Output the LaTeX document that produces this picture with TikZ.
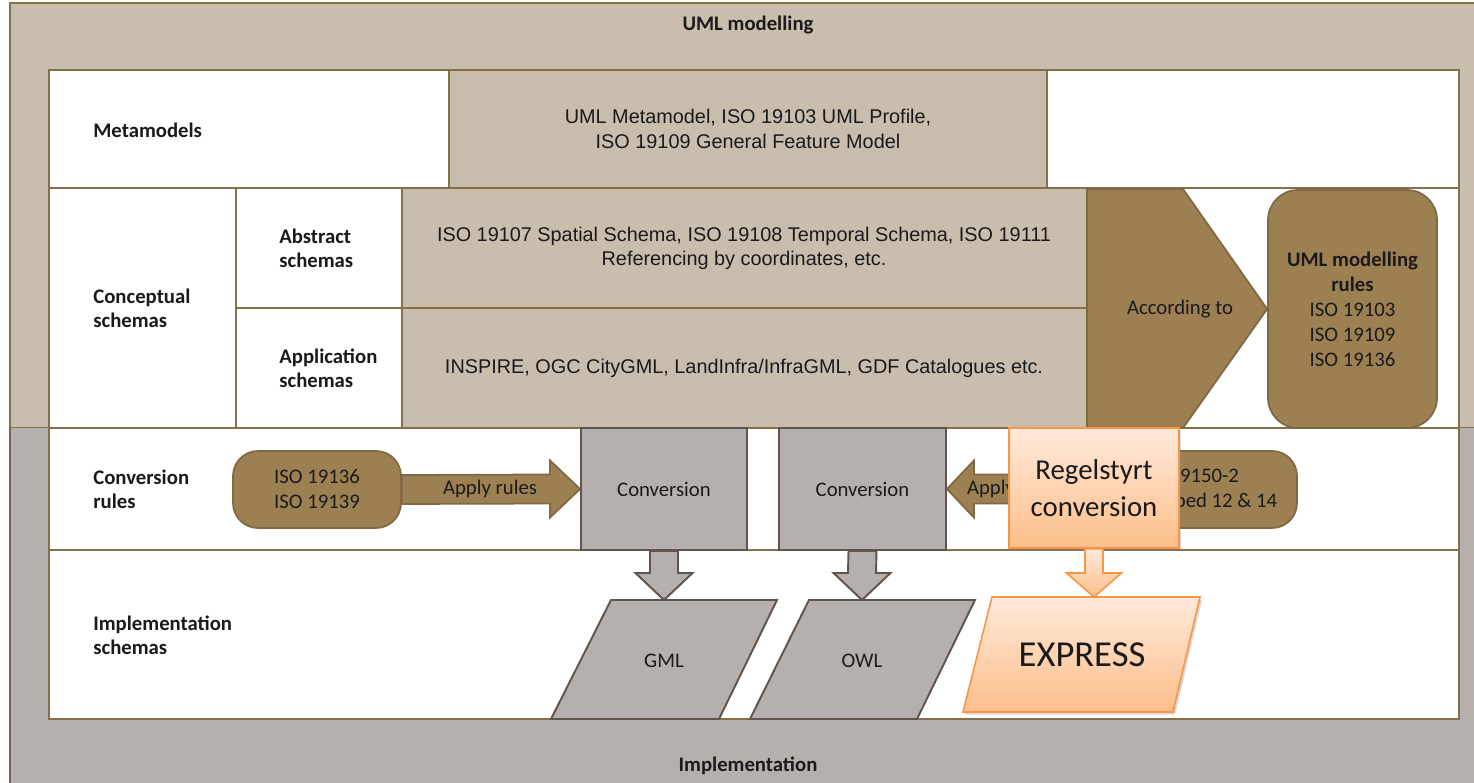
\documentclass[tikz,border=0pt]{standalone}
\usepackage{fontspec}
\setmainfont{Carlito}
\newfontfamily\contentfont{Liberation Sans}
\usetikzlibrary{calc,shadows}
\definecolor{beige}{HTML}{C9BDAD}
\definecolor{brline}{HTML}{85704A}
\definecolor{brdark}{HTML}{9D8052}
\definecolor{brdarkline}{HTML}{7E6944}
\definecolor{grayfill}{HTML}{B5B0AD}
\definecolor{grayline}{HTML}{5F554D}
\definecolor{grayedge}{HTML}{6E625A}
\definecolor{orline}{HTML}{F79646}
\definecolor{ortop}{HTML}{FFE9DA}
\definecolor{orbot}{HTML}{FCBE8A}
\definecolor{txt}{HTML}{1A1A1A}
\pgfdeclarelayer{bg}
\pgfdeclarelayer{mid}
\pgfsetlayers{bg,mid,main}
\tikzset{
  base/.style={font=\fontsize{11.8}{14}\selectfont, text=txt},
  lab/.style={font=\fontsize{11.8}{13.8}\selectfont\bfseries, align=left, anchor=west, inner sep=0pt, text=txt},
  content/.style={font=\contentfont\fontsize{11.3}{13.9}\selectfont, align=center, text=txt},
  tbl/.style={draw=brline, line width=1.1pt},
  beigebox/.style={fill=beige, draw=brline, line width=1.1pt},
  darkbox/.style={fill=brdark, draw=brdarkline, line width=1pt, rounded corners=0.5cm, inner sep=0pt},
  brarrow/.style={fill=brdark, draw=brdarkline, line width=1pt},
  convbox/.style={fill=grayfill, draw=grayline, line width=1.1pt, inner sep=0pt},
  garrow/.style={fill=grayfill, draw=grayline, line width=1.1pt},
  oshape/.style={top color=ortop, bottom color=orbot, draw=orline, line width=0.9pt},
  oshadow/.style={drop shadow={opacity=0.3, shadow xshift=1.2pt, shadow yshift=-1.5pt}},
}
\begin{document}
\begin{tikzpicture}[x=0.02cm, y=-0.02cm, base]
\useasboundingbox (0,0) rectangle (1474,783);
\clip (0,0) rectangle (1474,783);

\begin{pgfonlayer}{bg}
  % outer frames
  \path[fill=beige, draw=brline, line width=1.1pt] (10,3) rectangle (1500,428);
  \path[fill=grayfill] (10,428) rectangle (1500,800);
  \draw[draw=grayedge, line width=1.1pt] (10,428) -- (10,800);
  % table
  \draw[tbl, fill=white] (49,70) rectangle (1459,719);
  \draw[tbl] (49,188) -- (1459,188);
  \draw[tbl] (49,428) -- (1459,428);
  \draw[tbl] (49,550) -- (1459,550);
  \draw[tbl] (236,188) -- (236,428);
  \draw[tbl] (236,308) -- (402,308);
  % beige content cells
  \draw[beigebox] (449,70) rectangle (1047,188);
  \draw[beigebox] (402,188) rectangle (1087,308);
  \draw[beigebox] (402,308) rectangle (1087,428);
\end{pgfonlayer}

\node[font=\fontsize{11.8}{14}\selectfont\bfseries] (uml) at (748,25) {UML modelling};
\node[font=\fontsize{11.8}{14}\selectfont\bfseries] (impl) at (748,766) {Implementation};

% row labels
\node[lab] (lmeta) at (93,130) {Metamodels};
\node[lab] (lconc) at (93,308) {Conceptual\\schemas};
\node[lab] (labs) at (279,248) {Abstract\\schemas};
\node[lab] (lapp) at (279,368) {Application\\schemas};
\node[lab] (lconv) at (93,489) {Conversion\\rules};
\node[lab] (limpl) at (93,635) {Implementation\\schemas};

% content texts
\node[content] (meta) at (748,129) {UML Metamodel, ISO 19103 UML Profile,\\ISO 19109 General Feature Model};
\node[content] (abs) at (744,248.5) {ISO 19107 Spatial Schema, ISO 19108 Temporal Schema, ISO 19111\\Referencing by coordinates, etc.};
\node[content] (app) at (744,368) {INSPIRE, OGC CityGML, LandInfra/InfraGML, GDF Catalogues etc.};

% UML modelling rules
\node[darkbox, rounded corners=0.6cm, minimum width=3.38cm, minimum height=4.76cm, align=center,
      font=\fontsize{11.8}{14.2}\selectfont] (rules) at (1352.5,309)
  {\textbf{UML modelling}\\\textbf{rules}\\ISO 19103\\ISO 19109\\ISO 19136};
\draw[brarrow] (1087,189) -- (1183,189) -- (rules.west) -- (1183,428) -- (1087,428) -- cycle;
\node (acc) at (1180,309) {According to};

% conversion row
\node[darkbox, minimum width=3.36cm, minimum height=1.54cm, align=center,
      font=\fontsize{11.8}{14.2}\selectfont] (iso1) at (317,489.5) {ISO 19136\\ISO 19139};
\node[convbox, minimum width=3.32cm, minimum height=2.44cm] (conv1) at (664,489) {Conversion};
\node[convbox, minimum width=3.34cm, minimum height=2.44cm] (conv2) at (862.5,489) {Conversion};
\node[darkbox, minimum width=3.38cm, minimum height=1.54cm] (iso2) at (1212.5,489.5) {};

\begin{pgfonlayer}{mid}
  \draw[brarrow] ($(iso1.east)+(0,-14.5)$) -- ($(conv1.west)+(-30,-14.5)$) -- ($(conv1.west)+(-30,-28.5)$)
     -- (conv1.west) -- ($(conv1.west)+(-30,28.5)$) -- ($(conv1.west)+(-30,14.5)$) -- ($(iso1.east)+(0,14.5)$) -- cycle;
  \node (ap1) at (490,489) {Apply rules};
  \draw[brarrow] ($(iso2.west)+(0,-14.5)$) -- ($(conv2.east)+(27,-14.5)$) -- ($(conv2.east)+(27,-28.5)$)
     -- (conv2.east) -- ($(conv2.east)+(27,28.5)$) -- ($(conv2.east)+(27,14.5)$) -- ($(iso2.west)+(0,14.5)$) -- cycle;
  \node (ap2) at (1014,489) {Apply rules};
\end{pgfonlayer}
\node[align=left, anchor=west, inner sep=0pt, font=\fontsize{11.8}{14.2}\selectfont] (iso2t) at (1136,489.5) {ISO 19150-2\\Mapped 12 \& 14};

% implementation schemas
\coordinate (gmltop) at (664,600);
\coordinate (owltop) at (862,600);
\coordinate (exptop) at (1094,597);
\draw[garrow] (611,600) -- (777,600) -- (719,719) -- (551,719) -- cycle;
\node (gml) at (664,661) {GML};
\draw[garrow] (809,600) -- (975,600) -- (917,719) -- (750,719) -- cycle;
\node (owl) at (862,661) {OWL};

\begin{pgfonlayer}{mid}
  \draw[garrow] ($(conv1.south)+(-14,0)$) -- ($(gmltop)+(-14,-27)$) -- ($(gmltop)+(-28.5,-27)$) -- (gmltop)
     -- ($(gmltop)+(28.5,-27)$) -- ($(gmltop)+(14,-27)$) -- ($(conv1.south)+(14,0)$) -- cycle;
  \draw[garrow] ($(conv2.south)+(-14,0)$) -- ($(owltop)+(-14,-27)$) -- ($(owltop)+(-28.5,-27)$) -- (owltop)
     -- ($(owltop)+(28.5,-27)$) -- ($(owltop)+(14,-27)$) -- ($(conv2.south)+(14,0)$) -- cycle;
\end{pgfonlayer}

% orange elements
\node[oshape, oshadow, minimum width=3.4cm, minimum height=2.4cm, align=center, inner sep=0pt,
      font=\fontsize{16.4}{21}\selectfont] (reg) at (1094,488) {Regelstyrt\\conversion};
\path[oshape, oshadow] (992,597) -- (1200,597) -- (1173,712) -- (963,712) -- cycle;
\node[font=\fontsize{20.8}{24}\selectfont] (expr) at (1082,655) {EXPRESS};
\draw[oshape] ($(reg.south)+(-9,0)$) -- ($(exptop)+(-9,-24)$) -- ($(exptop)+(-27.5,-24)$) -- (exptop)
   -- ($(exptop)+(27.5,-24)$) -- ($(exptop)+(9,-24)$) -- ($(reg.south)+(9,0)$) -- cycle;
\end{tikzpicture}
\end{document}
